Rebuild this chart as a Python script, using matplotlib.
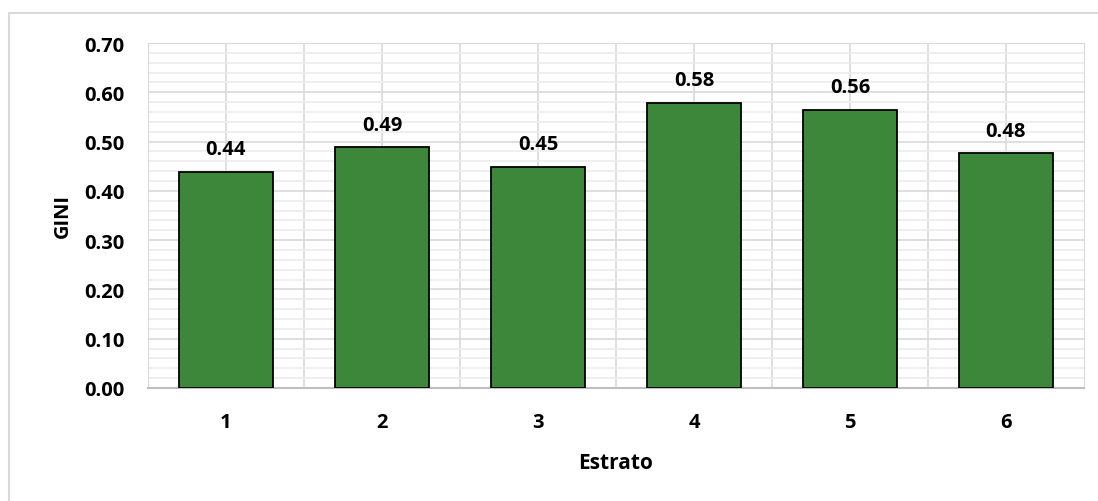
import matplotlib.pyplot as plt
from matplotlib.patches import Rectangle
from matplotlib.ticker import MultipleLocator

estratos = ["1", "2", "3", "4", "5", "6"]
gini = [0.438, 0.488, 0.449, 0.579, 0.564, 0.476]

plt.rcParams["font.family"] = ["Open Sans", "DejaVu Sans"]

fig = plt.figure(figsize=(10.98, 5.02), dpi=100)
W, H = 1098, 502
ax = fig.add_axes([148 / W, (H - 389) / H, 936 / W, 345 / H])

# borde exterior del grafico (estilo Excel)
fig.patches.append(Rectangle((9 / W, -0.1), 1.2, (H - 14) / H + 0.1,
                             transform=fig.transFigure, fill=False,
                             edgecolor="#d9d9d9", linewidth=1.5))

x = list(range(len(estratos)))
ax.bar(x, gini, width=0.6, color="#3c873a", edgecolor="black",
       linewidth=1.3, zorder=3)

for xi, v in zip(x, gini):
    ax.text(xi, v + 0.026, f"{v:.2f}", ha="center", va="bottom",
            fontsize=14.5, fontweight="bold")

ax.set_xlim(-0.5, len(estratos) - 0.5)
ax.set_ylim(0, 0.70)
ax.yaxis.set_major_locator(MultipleLocator(0.1))
ax.yaxis.set_minor_locator(MultipleLocator(0.02))
ax.set_xticks(x)
ax.set_xticks([i + 0.5 for i in x[:-1]], minor=True)
ax.set_xticklabels(estratos, fontsize=14.5, fontweight="bold")
ax.set_yticks([i / 10 for i in range(8)])
ax.set_yticklabels([f"{i / 10:.2f}" for i in range(8)], fontsize=14.5,
                   fontweight="bold")
ax.tick_params(axis="both", which="both", length=0)
ax.tick_params(axis="x", pad=17)
ax.tick_params(axis="y", pad=17)

ax.grid(True, which="major", color="#d9d9d9", linewidth=1.2, zorder=0)
ax.grid(True, which="minor", color="#ececec", linewidth=1.2, zorder=0)
ax.xaxis.grid(True, which="minor", color="#d9d9d9", linewidth=1.2)
ax.set_axisbelow(True)

for lado in ["top", "right", "left"]:
    ax.spines[lado].set_color("#d9d9d9")
ax.spines["bottom"].set_color("#bfbfbf")
ax.spines["bottom"].set_linewidth(1.5)

ax.set_xlabel("Estrato", fontsize=15, fontweight="bold", labelpad=15)
ax.set_ylabel("GINI", fontsize=14.5, fontweight="bold", labelpad=8)

fig.savefig("out.png", dpi=100)
